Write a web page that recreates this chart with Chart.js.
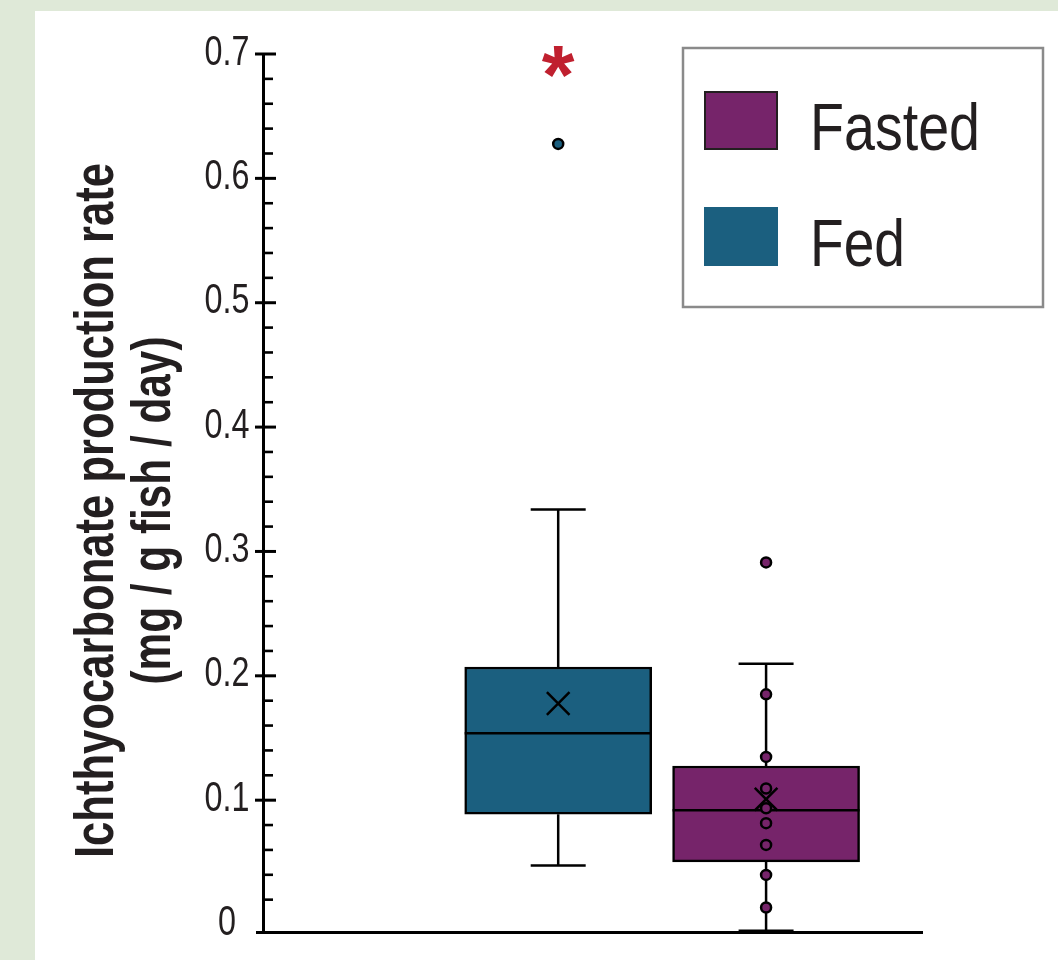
<!DOCTYPE html>
<html>
<head>
<meta charset="utf-8">
<title>Ichthyocarbonate production rate</title>
<script src="https://cdn.jsdelivr.net/npm/chart.js@4.4.1/dist/chart.umd.min.js"></script>
<style>
  html, body { margin: 0; padding: 0; background: #dfe9d8; }
  body { width: 1058px; height: 960px; position: relative; overflow: hidden; }
  #panel { position: absolute; left: 35px; top: 11px; width: 1023px; height: 949px; background: #fff; }
  canvas { display: block; }
</style>
</head>
<body>
<div id="panel"><canvas id="boxChart" width="1023" height="949"></canvas></div>
<script>
// groups in x order (index = position on the x scale)
const groups = ['Fed', 'Fasted'];
const groupColors = ['#1b5f7f', '#76246a'];

// box statistics per group
const q1 = [0.0887, 0.0504];
const median = [0.1538, 0.0919];
const q3 = [0.2071, 0.1275];
const whiskerLow = [0.0475, -0.005];
const whiskerHigh = [0.3338, 0.2098];
const means = [0.1777, 0.1008];

// individual points drawn on top of the boxes
const fedPoints = [0.6277];
const fastedPoints = [0.2912, 0.1851, 0.1348, 0.1094, 0.0935, 0.0815, 0.0640, 0.0399, 0.0137];

// y axis
const majorTicks = [0, 0.1, 0.2, 0.3, 0.4, 0.5, 0.6, 0.7];
const tickLabels = ['0', '0.1', '0.2', '0.3', '0.4', '0.5', '0.6', '0.7'];
const minorPerMajor = 4;

const axisTitle = ['Ichthyocarbonate production rate', '(mg / g fish / day)'];
const legendOrder = ['Fasted', 'Fed'];
const significance = '*';

const ink = '#231f20';
const sans = '"Liberation Sans", Arial, sans-serif';
// the original uses a condensed face, so text is squeezed sideways
const squeeze = 0.77;

// all tick values incl. minor ones
function buildTicks() {
  let out = [];
  for (let i = 0; i < majorTicks.length; i++) {
    out.push({ value: majorTicks[i], major: true });
    if (i < majorTicks.length - 1) {
      let step = (majorTicks[i + 1] - majorTicks[i]) / (minorPerMajor + 1);
      for (let k = 1; k <= minorPerMajor; k++) {
        out.push({ value: +(majorTicks[i] + k * step).toFixed(4), major: false });
      }
    }
  }
  return out;
}

function isMajor(v) {
  return majorTicks.some(m => Math.abs(m - v) < 1e-6);
}

// whiskers, caps and median for each box dataset
const boxParts = {
  id: 'boxParts',
  afterDatasetDraw(chart, args) {
    let ds = chart.data.datasets[args.index];
    if (ds.group === undefined) return;
    let g = ds.group;
    let ctx = chart.ctx;
    let ys = chart.scales.y;
    let bar = args.meta.data[0];
    let x = bar.x;
    let half = bar.width / 2;
    let capHalf = 27.5;

    ctx.save();
    ctx.strokeStyle = '#000';
    ctx.lineWidth = 2.5;
    ctx.beginPath();
    // upper whisker
    ctx.moveTo(x, ys.getPixelForValue(q3[g]));
    ctx.lineTo(x, ys.getPixelForValue(whiskerHigh[g]));
    ctx.moveTo(x - capHalf, ys.getPixelForValue(whiskerHigh[g]));
    ctx.lineTo(x + capHalf, ys.getPixelForValue(whiskerHigh[g]));
    // lower whisker
    ctx.moveTo(x, ys.getPixelForValue(q1[g]));
    ctx.lineTo(x, ys.getPixelForValue(whiskerLow[g]));
    ctx.moveTo(x - capHalf, ys.getPixelForValue(whiskerLow[g]));
    ctx.lineTo(x + capHalf, ys.getPixelForValue(whiskerLow[g]));
    ctx.stroke();
    // median
    ctx.beginPath();
    ctx.moveTo(x - half, ys.getPixelForValue(median[g]));
    ctx.lineTo(x + half, ys.getPixelForValue(median[g]));
    ctx.stroke();
    ctx.restore();
  }
};

// tick marks + labels, axis title, legend box and the significance star
const decorations = {
  id: 'decorations',
  afterDraw(chart) {
    let ctx = chart.ctx;
    let ys = chart.scales.y;
    let xs = chart.scales.x;
    let left = chart.chartArea.left;

    ctx.save();
    ctx.strokeStyle = '#000';
    ys.ticks.forEach(t => {
      if (t.value === 0) return;
      let py = ys.getPixelForValue(t.value);
      ctx.beginPath();
      if (isMajor(t.value)) {
        ctx.lineWidth = 3;
        ctx.moveTo(left - 8, py);
        ctx.lineTo(left + 13, py);
      } else {
        ctx.lineWidth = 2.6;
        ctx.moveTo(left, py);
        ctx.lineTo(left + 10, py);
      }
      ctx.stroke();
    });
    // x axis runs a little past the y axis
    ctx.lineWidth = 3;
    ctx.beginPath();
    ctx.moveTo(left - 7, chart.chartArea.bottom + 0.5);
    ctx.lineTo(left, chart.chartArea.bottom + 0.5);
    ctx.stroke();

    // tick labels, condensed
    ctx.fillStyle = ink;
    ctx.font = '42px ' + sans;
    ctx.textAlign = 'center';
    ctx.textBaseline = 'middle';
    majorTicks.forEach((v, i) => {
      ctx.save();
      ctx.translate(left - 36, ys.getPixelForValue(v) - 1);
      ctx.scale(squeeze, 1);
      ctx.fillText(tickLabels[i], 0, 0);
      ctx.restore();
    });
    ctx.restore();

    // rotated axis title
    ctx.save();
    ctx.fillStyle = ink;
    ctx.font = 'bold 56px ' + sans;
    ctx.textAlign = 'center';
    ctx.textBaseline = 'alphabetic';
    ctx.translate(78, 499.5);
    ctx.rotate(-Math.PI / 2);
    ctx.fillText(axisTitle[0], 0, 0, 695);
    ctx.fillText(axisTitle[1], 0, 57, 348);
    ctx.restore();

    // legend
    ctx.save();
    ctx.strokeStyle = '#8a8a8a';
    ctx.lineWidth = 2.5;
    ctx.strokeRect(648, 37, 360, 259);
    legendOrder.forEach((name, i) => {
      let ds = chart.data.datasets.find(d => d.label === name);
      let top = i === 0 ? 80 : 196;
      ctx.fillStyle = ds.backgroundColor;
      ctx.fillRect(669, top, 74, 59);
      if (i === 0) {
        ctx.strokeStyle = ink;
        ctx.lineWidth = 2;
        ctx.strokeRect(670, top + 1, 72, 57);
      }
      ctx.fillStyle = ink;
      ctx.font = '66px ' + sans;
      ctx.textAlign = 'left';
      ctx.textBaseline = 'alphabetic';
      ctx.fillText(name, 775, top + 59, name === 'Fasted' ? 170 : 95);
    });

    // significance star above the Fed group
    ctx.fillStyle = '#c0202f';
    ctx.font = 'bold 84px ' + sans;
    ctx.textAlign = 'center';
    ctx.fillText(significance, xs.getPixelForValue(0), ys.getPixelForValue(0.66));
    ctx.restore();
  }
};

let datasets = [];
groups.forEach((name, g) => {
  datasets.push({
    type: 'bar',
    label: name,
    group: g,
    data: [{ x: g, y: [q1[g], q3[g]] }],
    backgroundColor: groupColors[g],
    borderColor: '#000',
    borderWidth: 2.5,
    borderSkipped: false,
    barThickness: 187,
    grouped: false,
    order: 10
  });
});
datasets.push({
  type: 'scatter',
  label: 'mean',
  data: means.map((m, g) => ({ x: g, y: m })),
  pointStyle: 'crossRot',
  pointRadius: 16,
  borderColor: '#000',
  borderWidth: 2.5,
  order: 2
});
datasets.push({
  type: 'scatter',
  label: 'Fed points',
  data: fedPoints.map(v => ({ x: 0, y: v })),
  pointRadius: 5,
  backgroundColor: groupColors[0],
  borderColor: '#000',
  borderWidth: 2.5,
  order: 1
});
datasets.push({
  type: 'scatter',
  label: 'Fasted points',
  data: fastedPoints.map(v => ({ x: 1, y: v })),
  pointRadius: 5,
  backgroundColor: groupColors[1],
  borderColor: '#000',
  borderWidth: 2.5,
  order: 1
});

new Chart(document.getElementById('boxChart'), {
  type: 'bar',
  data: { datasets: datasets },
  options: {
    responsive: false,
    animation: false,
    events: [],
    layout: { padding: { top: 43, right: 136, bottom: 28, left: 0 } },
    plugins: {
      legend: { display: false },
      tooltip: { enabled: false }
    },
    scales: {
      x: {
        type: 'linear',
        offset: false,
        min: -1.42,
        max: 1.75,
        grid: { display: false, drawTicks: false },
        ticks: { display: false },
        border: { display: true, color: '#000', width: 3 }
      },
      y: {
        type: 'linear',
        min: -0.006,
        max: 0.7,
        afterBuildTicks: (scale) => { scale.ticks = buildTicks(); },
        afterFit: (scale) => { scale.width = 228; },
        grid: { display: false, drawTicks: false },
        border: { display: true, color: '#000', width: 3 },
        ticks: { display: false, autoSkip: false }
      }
    }
  },
  plugins: [boxParts, decorations]
});
</script>
</body>
</html>
